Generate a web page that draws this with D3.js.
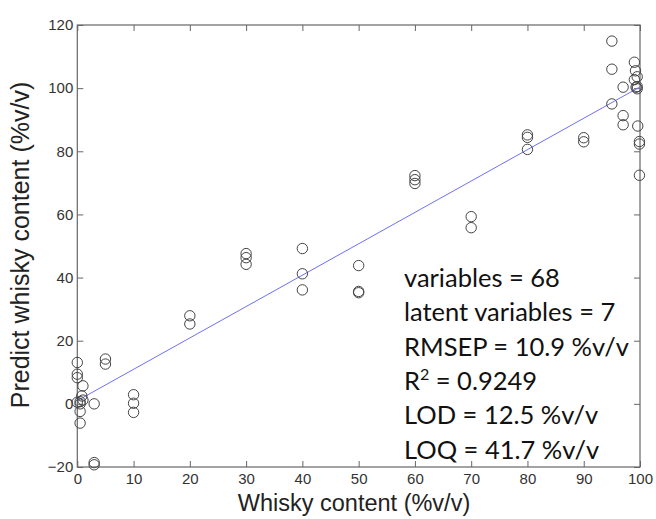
<!DOCTYPE html>
<html><head><meta charset="utf-8">
<script src="https://cdn.jsdelivr.net/npm/d3@7"></script>
<style>body{margin:0;background:#fff}svg{display:block}</style>
</head><body>
<svg id="c" width="656" height="519"></svg>
<script>
const xTicks = [0,10,20,30,40,50,60,70,80,90,100];
const yTicks = [-20,0,20,40,60,80,100,120];
const actual = [0,0,0,1,0.8,0.5,0.5,0.5,0,1,0.5,3,5,5,10,10,10,3,3,
  20,20,30,30,30,40,40,40,50,50,50,60,60,60,70,70,80,80,80,90,90,
  95,95,95,97,97,97,99,99.2,99,99.3,99.5,99.5,99.6,99.5,99.9,99.9,99.9];
const predicted = [13.1,9.4,8.3,5.7,2.5,0.7,-2.4,-6.1,0.5,1.2,0,0,14.2,12.6,2.9,0.2,-2.7,-18.6,-19.3,
  27.9,25.3,47.6,46.3,44.2,49.2,41.2,36.1,43.8,35.6,35.2,72.3,71.0,69.8,59.3,55.8,85.2,84.4,80.6,84.3,83.0,
  114.9,106.0,95.0,100.3,91.3,88.4,108.2,105.5,102.7,100.3,100.5,99.8,88.0,103.6,83.1,82.3,72.4];
const fitX = [0,100];
const fitY = [1.0,100.4];
const stats = ["variables = 68","latent variables = 7","RMSEP = 10.9 %v/v","R2 = 0.9249","LOD = 12.5 %v/v","LOQ = 41.7 %v/v"];

const svg = d3.select("#c");
const L=77.3, R=640, T=25, B=467;
const x = d3.scaleLinear().domain([0,100]).range([L,R]);
const y = d3.scaleLinear().domain([-20,120]).range([B,T]);
const frame = "#666";
const font = "'Liberation Sans', Arial, sans-serif";

const gB = svg.append("g").attr("transform",`translate(0,${B})`)
  .call(d3.axisBottom(x).tickValues(xTicks).tickSizeInner(-6).tickSizeOuter(0).tickPadding(6));
const gT = svg.append("g").attr("transform",`translate(0,${T})`)
  .call(d3.axisTop(x).tickValues(xTicks).tickSizeInner(-6).tickSizeOuter(0).tickFormat(""));
const gL = svg.append("g").attr("transform",`translate(${L},0)`)
  .call(d3.axisLeft(y).tickValues(yTicks).tickSizeInner(-6).tickSizeOuter(0).tickPadding(4));
const gR = svg.append("g").attr("transform",`translate(${R},0)`)
  .call(d3.axisRight(y).tickValues(yTicks).tickSizeInner(-6).tickSizeOuter(0).tickFormat(""));
[gB,gT,gL,gR].forEach(g=>{
  g.select(".domain").remove();
  g.selectAll("line").attr("stroke",frame).attr("stroke-width",1);
  g.selectAll("text").attr("font-family",font).attr("font-size",15).attr("fill","#333");
});
gB.selectAll("text").attr("y",6).attr("dy","0.71em");
svg.append("rect").attr("x",L).attr("y",T).attr("width",R-L).attr("height",B-T)
  .attr("fill","none").attr("stroke",frame).attr("stroke-width",1.2);

svg.append("line").attr("x1",x(fitX[0])).attr("y1",y(fitY[0])).attr("x2",x(fitX[1])).attr("y2",y(fitY[1]))
  .attr("stroke","#6f6ff5").attr("stroke-width",1);

svg.append("g").selectAll("circle").data(actual.map((a,i)=>[a,predicted[i]])).join("circle")
  .attr("cx",d=>x(d[0])).attr("cy",d=>y(d[1])).attr("r",5.2)
  .attr("fill","none").attr("stroke","#444").attr("stroke-width",1);

svg.append("text").attr("x",354).attr("y",511).attr("text-anchor","middle")
  .attr("font-family",font).attr("font-size",23.5).attr("fill","#222").text("Whisky content (%v/v)");
svg.append("text").attr("transform","translate(29,245) rotate(-90)").attr("text-anchor","middle")
  .attr("font-family",font).attr("font-size",25).attr("fill","#222").text("Predict whisky content (%v/v)");

const sf = "Lato, 'Open Sans', sans-serif";
stats.forEach((s,i)=>{
  const t = svg.append("text").attr("x",404).attr("y",287+i*34.3)
    .attr("font-family",sf).attr("font-size",25.5).attr("fill","#111");
  if (s.startsWith("R2")) {
    t.append("tspan").text("R");
    t.append("tspan").attr("font-size",16).attr("dy",-10).text("2");
    t.append("tspan").attr("dy",10).text(s.slice(2));
  } else t.text(s);
});
</script>
</body></html>
